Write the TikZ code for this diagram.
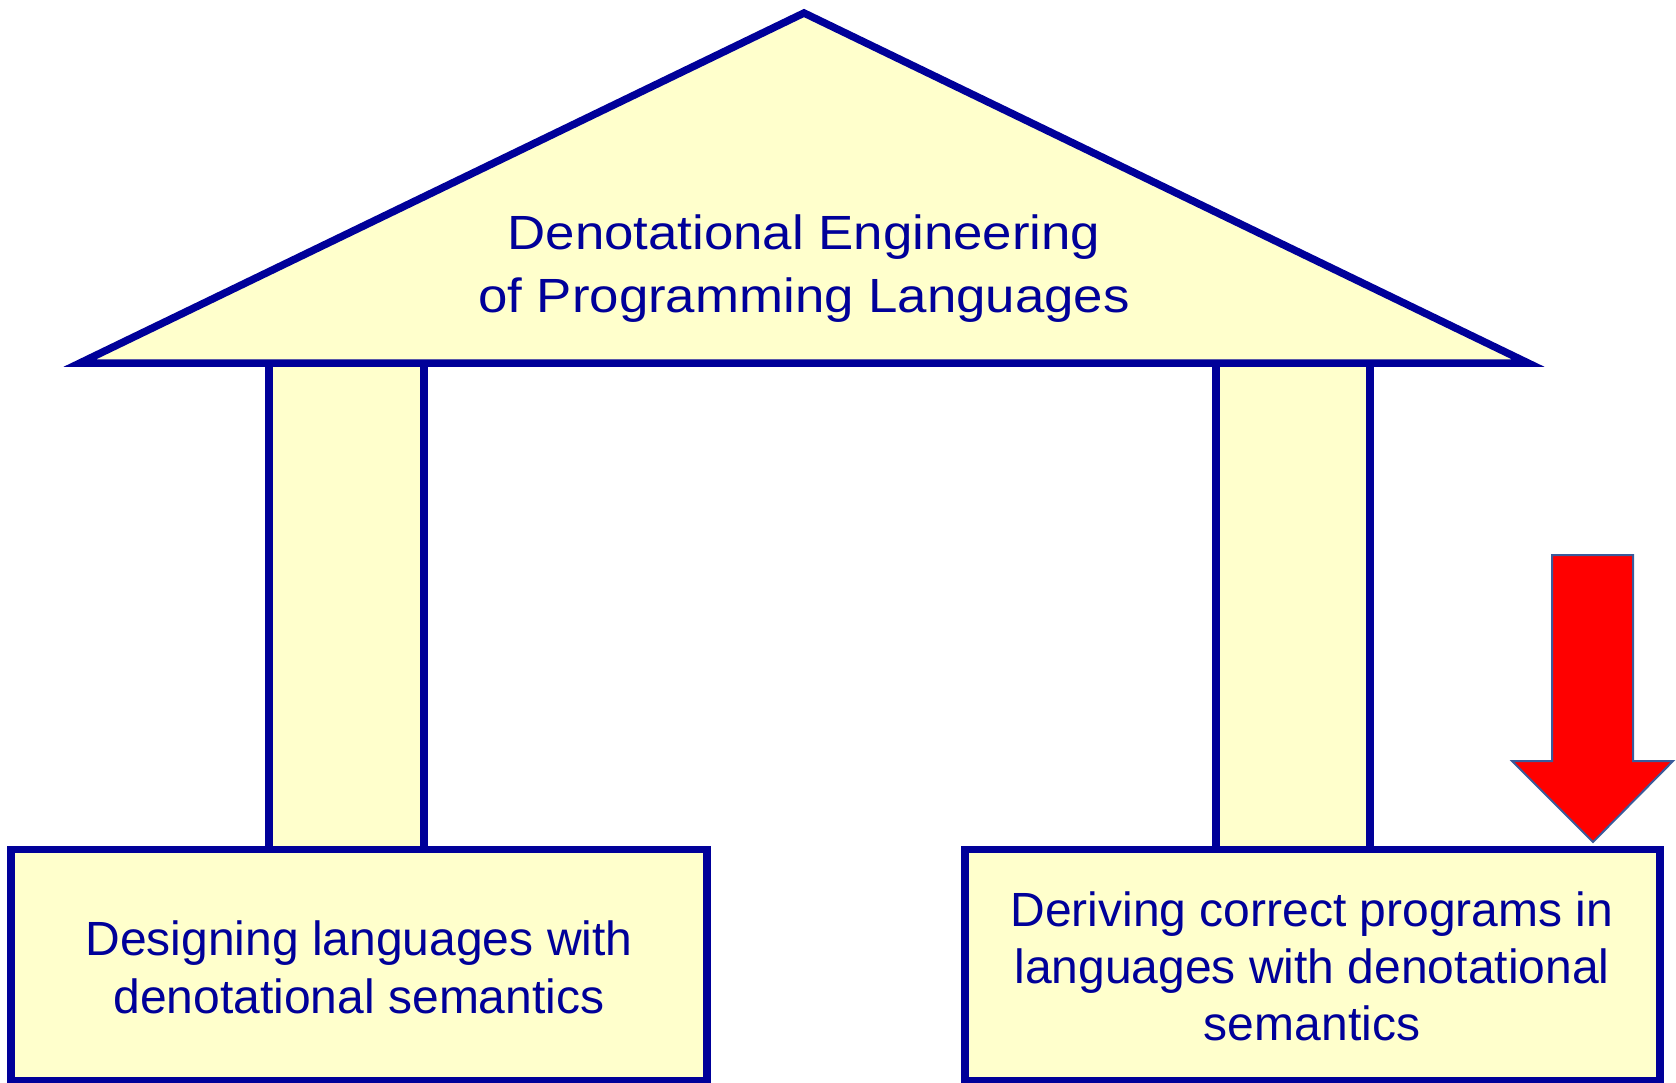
\documentclass[tikz,border=0pt]{standalone}
\usepackage{fontspec}
\setmainfont{Liberation Sans}
\newfontfamily\widefont[FakeStretch=1.1]{Liberation Sans}
\definecolor{navy}{HTML}{000099}
\definecolor{cream}{HTML}{FFFFCC}
\definecolor{arrowedge}{HTML}{3A5B9B}
\definecolor{arrowred}{HTML}{FF0000}
\begin{document}
\begin{tikzpicture}[x=1pt,y=-1pt,
  block/.style={draw=navy, fill=cream, line width=7.5pt, inner sep=0pt, outer sep=0pt, line join=miter},
  boxtext/.style={text=navy, inner sep=0pt, anchor=base, font=\fontsize{48}{58}\selectfont},
  rooftext/.style={text=navy, inner sep=0pt, anchor=base, font=\widefont\fontsize{48}{63}\selectfont},
  bigarrow/.style={fill=arrowred, draw=arrowedge, line width=2pt, line join=miter}]
\useasboundingbox (0,0) rectangle (1676,1082);
% pillars
\node[block, minimum width=155pt, minimum height=486.5pt] (lpillar) at (346.5,606.25) {};
\node[block, minimum width=154pt, minimum height=486.5pt] (rpillar) at (1293,606.25) {};
% roof
\coordinate (apex) at (804,13);
\coordinate (eaveR) at (1528,363);
\coordinate (eaveL) at (80,363);
\draw[block] (apex) -- (eaveR) -- (eaveL) -- cycle;
% base boxes
\node[block, minimum width=696pt, minimum height=231.5pt] (lbox) at (359,965.25) {};
\node[block, minimum width=695pt, minimum height=231.5pt] (rbox) at (1312.5,965.25) {};
% arrow
\coordinate (a1) at (1552,555);
\coordinate (a2) at (1633,555);
\coordinate (a3) at (1633,761);
\coordinate (a4) at (1673,761);
\coordinate (a5) at (1593,842);
\coordinate (a6) at (1512,761);
\coordinate (a7) at (1552,761);
\draw[bigarrow] (a1) -- (a2) -- (a3) -- (a4) -- (a5) -- (a6) -- (a7) -- cycle;
% texts
\node[rooftext] (t1) at (804,249) {Denotational Engineering};
\node[rooftext] (t2) at (804,312) {of Programming Languages};
\node[boxtext] (l1) at (359,955) {Designing languages with};
\node[boxtext] (l2) at (359,1013) {denotational semantics};
\node[boxtext] (r1) at (1312,926) {Deriving correct programs in};
\node[boxtext] (r2) at (1312,983) {languages with denotational};
\node[boxtext] (r3) at (1312,1040) {semantics};
\end{tikzpicture}
\end{document}
